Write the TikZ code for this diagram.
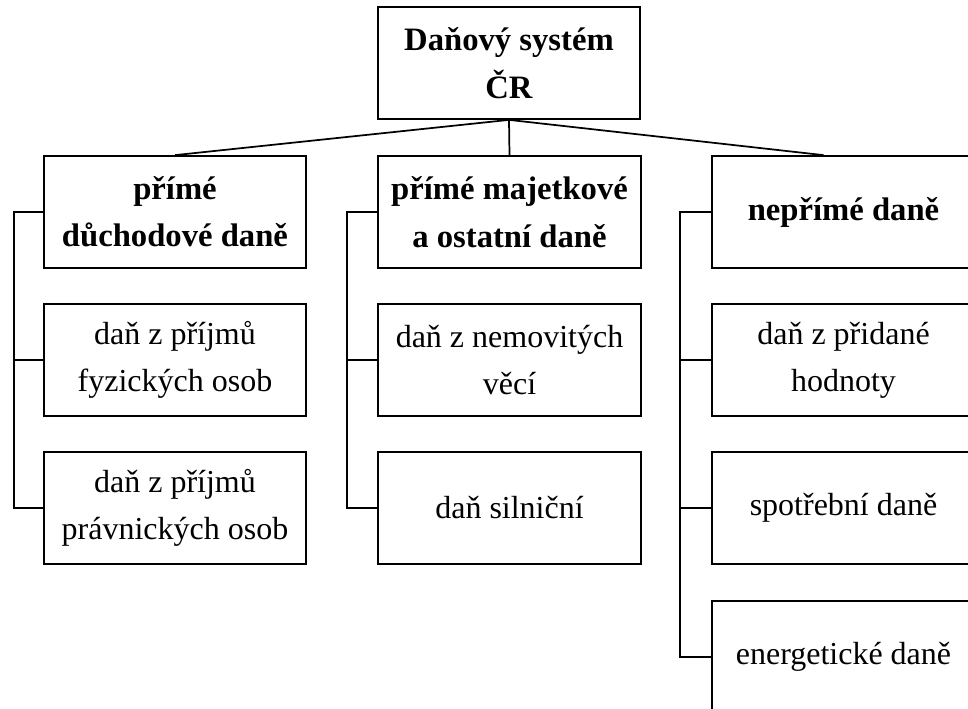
\documentclass[tikz,border=0pt]{standalone}
\usepackage{fontspec}
\setmainfont{Liberation Serif}
\begin{document}
\begin{tikzpicture}[
  x=0.75pt, y=-0.75pt,
  box/.style = {draw, line width=1.3pt, align=center, minimum width=197pt,
                minimum height=84pt, inner sep=0pt,
                font=\fontsize{24}{35.5}\selectfont},
  head/.style = {box, font=\fontsize{24.5}{35.5}\selectfont\bfseries},
  link/.style = {line width=1.3pt},
  ]
  \clip (0,0) rectangle (968,708);

  \node[head] (dan) at (509,63) {Daňový systém\\ČR};

  \node[head] (prd) at (175,212) {přímé\\důchodové daně};
  \node[box] (fyz) at (175,360) {daň z příjmů\\fyzických osob};
  \node[box] (prav) at (175,508) {daň z příjmů\\právnických osob};

  \node[head] (prm) at (509.5,212) {přímé majetkové\\a ostatní daně};
  \node[box] (nem) at (509.5,360) {daň z nemovitých\\věcí};
  \node[box] (siln) at (509.5,508) {daň silniční};

  \node[head] (nep) at (843.5,212) {nepřímé daně};
  \node[box] (dph) at (843.5,360) {daň z přidané\\hodnoty};
  \node[box] (spotr) at (843.5,508) {spotřební daně};
  \node[box] (energ) at (843.5,657) {energetické daně};

  \draw[link] (dan.south) -- (prd.north);
  \draw[link] (dan.south) -- (prm.north);
  \draw[link] (dan.south) -- ([xshift=-15pt]nep.north);

  \draw[link] (prd.west) -- ++(-29,0) |- (prav.west);
  \draw[link] (fyz.west) -- ++(-29,0);

  \draw[link] (prm.west) -- ++(-30,0) |- (siln.west);
  \draw[link] (nem.west) -- ++(-30,0);

  \draw[link] (nep.west) -- ++(-31,0) |- (energ.west);
  \draw[link] (dph.west) -- ++(-31,0);
  \draw[link] (spotr.west) -- ++(-31,0);
\end{tikzpicture}
\end{document}
